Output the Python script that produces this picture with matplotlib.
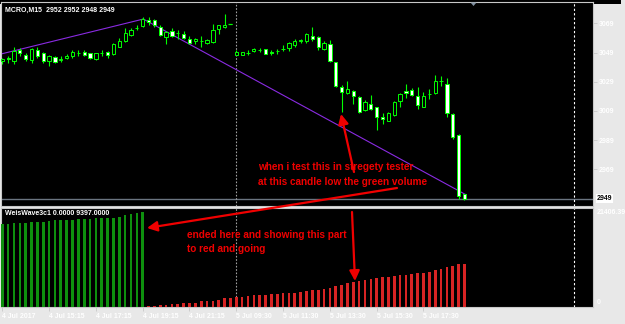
import numpy as np
import matplotlib
matplotlib.use("Agg")
import matplotlib.pyplot as plt
from matplotlib.patches import Rectangle, Polygon, FancyArrowPatch

# Datos de las velas (M15)
opens = [3043.5, 3045.0, 3043.1, 3050.7, 3047.3, 3044.0, 3050.7, 3048.4, 3042.9, 3045.7,
         3044.2, 3045.0, 3046.6, 3048.5, 3049.5, 3048.4, 3044.3, 3048.6, 3049.5, 3048.0,
         3053.0, 3057.1, 3061.0, 3065.5, 3067.2, 3071.5, 3071.5, 3066.3, 3059.6, 3063.5,
         3062.6, 3061.7, 3058.5, 3057.1, 3057.2, 3055.7, 3056.2, 3065.3, 3066.3, 3068.5,
         3047.5, 3047.1, 3048.7, 3050.3, 3050.8, 3051.2, 3049.2, 3050.0, 3051.5, 3052.1,
         3053.9, 3057.0, 3057.1, 3060.3, 3059.4, 3051.6, 3054.8, 3042.5, 3025.6, 3021.0,
         3022.4, 3018.3, 3009.4, 3013.7, 3011.5, 3004.7, 3002.3, 3006.2, 3016.0, 3022.4,
         3023.3, 3019.2, 3011.9, 3020.4, 3021.0, 3029.3, 3027.4, 3006.7, 2992.3, 2952.0]
highs = [3045.5, 3046.5, 3052.5, 3052.0, 3048.5, 3052.0, 3052.5, 3049.5, 3047.0, 3046.5,
         3046.4, 3048.0, 3050.5, 3050.5, 3050.5, 3048.8, 3048.8, 3051.0, 3050.2, 3055.5,
         3058.6, 3065.6, 3065.5, 3067.5, 3073.0, 3073.0, 3072.0, 3068.0, 3063.5, 3066.0,
         3064.5, 3063.5, 3060.0, 3058.7, 3060.0, 3058.0, 3068.5, 3068.0, 3075.4, 3068.5,
         3051.0, 3049.5, 3050.5, 3051.8, 3051.8, 3051.5, 3050.5, 3051.5, 3054.3, 3056.2,
         3058.4, 3058.3, 3062.6, 3066.7, 3060.5, 3057.1, 3057.5, 3042.8, 3026.7, 3029.7,
         3023.0, 3019.0, 3016.5, 3019.7, 3012.0, 3007.4, 3008.0, 3015.8, 3021.0, 3027.4,
         3025.0, 3025.6, 3022.0, 3024.3, 3033.8, 3033.0, 3031.3, 3007.3, 2993.0, 2952.0]
lows = [3041.0, 3042.0, 3041.0, 3046.5, 3043.5, 3041.5, 3045.5, 3042.0, 3039.6, 3042.0,
        3042.5, 3044.5, 3045.5, 3046.5, 3046.8, 3044.5, 3044.0, 3046.5, 3045.0, 3047.5,
        3052.5, 3056.5, 3060.5, 3064.3, 3066.5, 3068.0, 3066.3, 3060.5, 3054.8, 3059.5,
        3058.5, 3058.5, 3054.8, 3054.8, 3052.5, 3054.5, 3055.8, 3061.5, 3066.0, 3068.5,
        3047.0, 3047.0, 3047.5, 3049.3, 3049.5, 3048.0, 3047.0, 3048.2, 3050.2, 3050.2,
        3053.0, 3055.7, 3055.3, 3057.1, 3050.7, 3050.7, 3042.5, 3025.5, 3008.0, 3020.5,
        3013.7, 3007.5, 3009.0, 3009.5, 2996.0, 3000.0, 3001.8, 3005.8, 3011.9, 3018.0,
        3019.0, 3010.1, 3011.5, 3017.0, 3020.8, 3026.1, 3004.6, 2990.0, 2948.5, 2948.0]
closes = [3044.5, 3044.5, 3050.2, 3048.4, 3044.6, 3051.2, 3046.6, 3043.4, 3046.4, 3042.8,
          3044.6, 3046.6, 3049.5, 3048.9, 3047.3, 3045.0, 3048.4, 3049.0, 3047.3, 3054.8,
          3057.1, 3062.6, 3064.4, 3066.0, 3072.0, 3070.0, 3067.6, 3061.2, 3062.8, 3060.1,
          3062.2, 3058.9, 3055.3, 3058.5, 3057.0, 3057.6, 3064.6, 3067.6, 3067.6, 3068.5,
          3049.1, 3049.3, 3049.0, 3051.1, 3050.6, 3048.2, 3049.0, 3050.2, 3051.7, 3055.3,
          3056.9, 3057.4, 3061.7, 3058.5, 3053.0, 3055.3, 3043.0, 3026.0, 3021.9, 3023.8,
          3019.2, 3008.2, 3015.0, 3010.1, 3005.0, 3003.5, 3007.4, 3015.3, 3020.6, 3021.0,
          3020.1, 3013.3, 3019.2, 3020.8, 3029.3, 3029.7, 3007.4, 2991.3, 2950.7, 2949.0]

# WeisWave3c1: volumen acumulado de la onda alcista (verde) y bajista (rojo)
vol_verde = [17900, 18030, 18120, 18185, 18250, 18340, 18400, 18470, 18690, 18780,
             18840, 18910, 18910, 19000, 19000, 19060, 19215, 19280, 19280, 19350,
             19500, 19870, 20090, 20220, 20440]
vol_rojo = [150, 220, 370, 500, 590, 720, 810, 880, 940, 1250,
            1310, 1380, 1600, 1860, 1910, 2190, 2230, 2410, 2500, 2510,
            2630, 2780, 2790, 2940, 3070, 3080, 3220, 3440, 3660, 3720,
            3940, 4100, 4600, 4750, 5130, 5350, 5570, 5780, 6000, 6350,
            6510, 6570, 6730, 6880, 6950, 7230, 7380, 7390, 7670, 8040,
            8190, 8630, 8850, 9350, 9397]
vol_max = 21406.39

etiquetas_tiempo = ["4 Jul 2017", "4 Jul 15:15", "4 Jul 17:15", "4 Jul 19:15", "4 Jul 21:15",
                    "5 Jul 09:30", "5 Jul 11:30", "5 Jul 13:30", "5 Jul 15:30", "5 Jul 17:30"]
niveles_precio = [3069, 3049, 3029, 3009, 2989, 2969]
precio_bid = 2949

# lineas de tendencia (barra, precio)
tendencia_1 = [(-0.4, 3047.8), (24.1, 3071.9)]
tendencia_2 = [(24.1, 3071.9), (79.2, 2951.7)]
separador_dia = 40
linea_vertical = 97.8

W, H = 625, 324
def fx(x):
    return x / W
def fy(y):
    return 1 - y / H

familia = ["Liberation Sans", "DejaVu Sans"]
plt.rcParams["font.family"] = familia
plt.rcParams["font.weight"] = "bold"

fig = plt.figure(figsize=(W / 100, H / 100), dpi=100, facecolor="black")
LIMA = "#00ff00"
GRIS = "#c8c8c8"
fuente = 5.0

x_izq, x_der = 1, 593
paso = 5.85
x0 = 2.3
xlim = ((x_izq - x0) / paso, (x_der - x0) / paso)

ax = fig.add_axes([fx(x_izq), fy(206), fx(x_der) - fx(x_izq), fy(2) - fy(206)], facecolor="black")
ax2 = fig.add_axes([fx(x_izq), fy(307), fx(x_der) - fx(x_izq), fy(208) - fy(307)], facecolor="black")

n = len(closes)
idx = np.arange(n)
o = np.array(opens)
c = np.array(closes)

# mechas y cuerpos
ax.vlines(idx, lows, highs, colors=LIMA, lw=0.8, zorder=3)
rellenos = ["black" if cc > oo else "white" for oo, cc in zip(o, c)]
ax.bar(idx, c - o, bottom=o, width=0.55, color=rellenos, edgecolor=LIMA, linewidth=0.7, zorder=4)
iguales = idx[o == c]
ax.hlines(o[iguales], iguales - 0.35, iguales + 0.35, colors=LIMA, lw=0.9, zorder=4)

# lineas de tendencia
for t in (tendencia_1, tendencia_2):
    ax.plot([p[0] for p in t], [p[1] for p in t], color="#8a2be2", lw=0.8, zorder=2)

ax.axhline(precio_bid, color="#6a7480", lw=1.0, zorder=1)

ax.set_xlim(*xlim)
ax.set_ylim(3069 - (206 - 23.3) / 1.46, 3069 + (23.3 - 2) / 1.46)
ax.set_xticks([])
ax.yaxis.tick_right()
ax.set_yticks(niveles_precio)
ax.set_yticklabels([str(v) for v in niveles_precio])
ax.tick_params(axis="y", color=GRIS, labelsize=fuente, length=3, pad=1, width=0.6)
for lbl in ax.get_yticklabels():
    lbl.set_color("white")
ax.text(1.006, precio_bid, str(precio_bid), transform=ax.get_yaxis_transform(), fontsize=fuente,
        color="black", va="center", ha="left",
        bbox=dict(boxstyle="square,pad=0.15", fc="white", ec="none"))
ax.text(0.007, 0.978, "MCRO,M15  2952 2952 2948 2949", transform=ax.transAxes, fontsize=fuente,
        color="white", va="top", ha="left")

# histograma del indicador
ax2.bar(idx[:len(vol_verde)], vol_verde, width=0.45, color="#0e900e", zorder=3)
ax2.bar(idx[len(vol_verde):], vol_rojo, width=0.45, color="#d82424", zorder=3)
ax2.set_xlim(*xlim)
ax2.set_ylim(0, vol_max)
ax2.set_yticks([])
ax2.set_xticks(np.arange(len(etiquetas_tiempo)) * 8)
ax2.set_xticklabels(etiquetas_tiempo, ha="left")
ax2.tick_params(axis="x", color=GRIS, labelsize=fuente, length=3, pad=1.5, width=0.6)
for lbl in ax2.get_xticklabels():
    lbl.set_color("white")
ax2.text(0.007, 0.975, "WeisWave3c1 0.0000 9397.0000", transform=ax2.transAxes, fontsize=fuente,
         color="white", va="top", ha="left")
ax2.text(1.006, 0.95, "21406.39", transform=ax2.transAxes, fontsize=fuente, color="white", va="center")
ax2.text(1.006, 0.045, "0", transform=ax2.transAxes, fontsize=fuente, color="white", va="center")

for a in (ax, ax2):
    for s in a.spines.values():
        s.set_color(GRIS)
        s.set_linewidth(0.8)
    a.axvline(separador_dia - 0.1, color="#a0a0a0", lw=0.8, ls=(0, (1.5, 1.5)), zorder=1)
    a.axvline(linea_vertical, color="white", lw=0.8, ls=(0, (2, 2)), zorder=1)

# marcador de desplazamiento del grafico
fig.patches.append(Polygon([(fx(470.5), fy(2.5)), (fx(476.5), fy(2.5)), (fx(473.5), fy(6))],
                           closed=True, transform=fig.transFigure, fc="#8090a0", ec="none"))
# marco de la ventana
fig.patches.append(Rectangle((fx(621), 0), 1 - fx(621), 1, transform=fig.transFigure,
                             fc="#e8e8e8", ec="none", zorder=-1))
fig.patches.append(Rectangle((0, 0), 1, 1 - fy(320), transform=fig.transFigure,
                             fc="#e8e8e8", ec="none", zorder=-1))

# anotaciones en rojo
ROJO = "#f00000"
tam_nota = 7.2
notas = [(258, 167.5, "when i test this in stregety tester"),
         (258, 181.5, "at this candle low the green volume"),
         (187, 235, "ended here and showing this part"),
         (187, 249, "to red and going")]
for x, y, texto in notas:
    fig.text(fx(x), fy(y), texto, color=ROJO, fontsize=tam_nota, fontweight="bold",
             va="center", ha="left")

flechas = [((354, 172), (341, 114)), ((397, 188), (147, 228)), ((352, 212), (355, 281))]
for cola, punta in flechas:
    fig.add_artist(FancyArrowPatch(
        (fx(cola[0]), fy(cola[1])), (fx(punta[0]), fy(punta[1])), transform=fig.transFigure,
        arrowstyle="-|>,head_length=0.6,head_width=0.3", mutation_scale=10,
        color=ROJO, lw=1.6, shrinkA=0, shrinkB=0))

fig.savefig("out.png", dpi=100, facecolor="black")
